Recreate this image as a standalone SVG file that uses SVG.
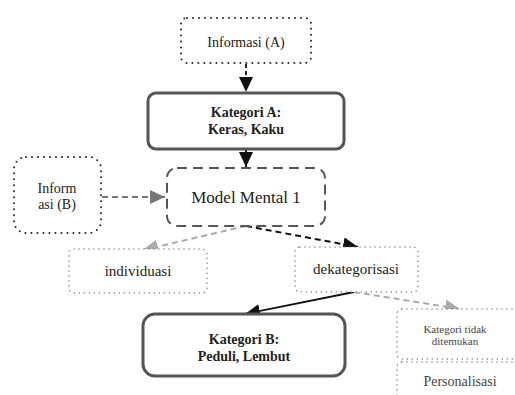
<svg xmlns="http://www.w3.org/2000/svg" width="515" height="395" viewBox="0 0 515 395">
<style>
text{font-family:"Liberation Serif","DejaVu Serif",serif;text-anchor:middle;fill:#222}
.dotk{fill:#fff;stroke:#222;stroke-width:2;stroke-dasharray:0 6;stroke-linecap:round}
.dotg{fill:#fff;stroke:#777;stroke-width:1.5;stroke-dasharray:0 5;stroke-linecap:round}
.bold{fill:#fff;stroke:#555;stroke-width:3}
.t13{font-size:14px}
.t15{font-size:15px}
.b13{font-size:14px;font-weight:bold}
</style>
<defs>
<marker id="ak14" markerWidth="15" markerHeight="14" refX="15" refY="7" orient="auto" markerUnits="userSpaceOnUse"><path d="M0,0L15,7L0,14z" fill="#111"/></marker>
<marker id="ag" markerWidth="15" markerHeight="14" refX="15" refY="7" orient="auto" markerUnits="userSpaceOnUse"><path d="M0,0L15,7L0,14z" fill="#777"/></marker>
<marker id="agl" markerWidth="15" markerHeight="14" refX="15" refY="7" orient="auto" markerUnits="userSpaceOnUse"><path d="M0,0L15,7L0,14z" fill="#aaa"/></marker>
</defs>
<g id="connectors">
<line x1="246" y1="64" x2="246" y2="92" stroke="#222" stroke-width="2" stroke-dasharray="4 3" marker-end="url(#ak14)"/>
<line x1="246" y1="150" x2="246" y2="167" stroke="#111" stroke-width="2" marker-end="url(#ak14)"/>
<line x1="102" y1="197" x2="165" y2="197" stroke="#777" stroke-width="2" stroke-dasharray="6 4" marker-end="url(#ag)"/>
<line x1="246" y1="226" x2="143" y2="250" stroke="#aaa" stroke-width="2" stroke-dasharray="6 4" marker-end="url(#agl)"/>
<line x1="246" y1="226" x2="358" y2="247" stroke="#111" stroke-width="2" stroke-dasharray="6 4" marker-end="url(#ak14)"/>
<line x1="354" y1="292" x2="245" y2="314" stroke="#111" stroke-width="1.8" marker-end="url(#ak14)"/>
<line x1="354" y1="292" x2="460" y2="309" stroke="#aaa" stroke-width="2" stroke-dasharray="6 4" marker-end="url(#agl)"/>
</g>
<g id="informasi-a">
<rect class="dotk" x="181" y="18" width="130" height="45" rx="6"/>
<text class="t13" x="246" y="47">Informasi (A)</text>
</g>
<g id="kategori-a">
<rect class="bold" x="148" y="93" width="196" height="56" rx="8"/>
<text class="b13" x="246" y="117">Kategori A:</text>
<text class="b13" x="246" y="134">Keras, Kaku</text>
</g>
<g id="informasi-b">
<rect class="dotk" x="14" y="157" width="87" height="76" rx="12"/>
<text class="t13" x="57" y="193">Inform</text>
<text class="t13" x="57" y="209">asi (B)</text>
</g>
<g id="model-mental">
<rect x="167" y="168" width="158" height="58" rx="10" fill="#fff" stroke="#555" stroke-width="2" stroke-dasharray="10 6"/>
<text x="246" y="203" style="font-size:17px">Model Mental 1</text>
</g>
<g id="individuasi">
<rect class="dotg" x="69" y="249" width="138" height="44" rx="5"/>
<text class="t15" x="138" y="276">individuasi</text>
</g>
<g id="dekategorisasi">
<rect class="dotg" x="295" y="247" width="123" height="45" rx="5"/>
<text class="t15" x="356" y="274">dekategorisasi</text>
</g>
<g id="kategori-b">
<rect class="bold" x="143" y="314" width="202" height="62" rx="12"/>
<text class="b13" x="244" y="344">Kategori B:</text>
<text class="b13" x="244" y="361">Peduli, Lembut</text>
</g>
<g id="kategori-tidak">
<rect class="dotg" x="397" y="309" width="130" height="50" rx="5"/>
<text x="455" y="333" style="font-size:11px;fill:#444">Kategori tidak</text>
<text x="455" y="345" style="font-size:11px;fill:#444">ditemukan</text>
</g>
<g id="personalisasi">
<rect class="dotg" x="397" y="362" width="130" height="45" rx="5"/>
<text x="460" y="386" style="font-size:14px;fill:#444">Personalisasi</text>
</g>
</svg>
